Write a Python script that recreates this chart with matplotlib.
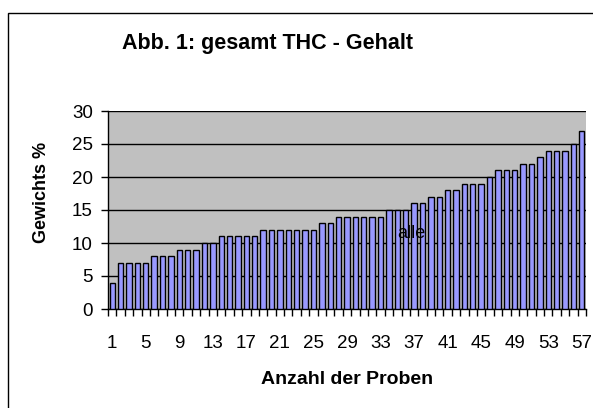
import matplotlib
matplotlib.use("Agg")
import matplotlib.pyplot as plt
import numpy as np

# THC content per sample, sorted ascending
samples = np.arange(1, 58)
thc = [4, 7, 7, 7, 7, 8, 8, 8, 9, 9, 9, 10, 10, 11, 11, 11, 11, 11,
       12, 12, 12, 12, 12, 12, 12, 13, 13, 14, 14, 14, 14, 14, 14,
       15, 15, 15, 16, 16, 17, 17, 18, 18, 19, 19, 19, 20, 21, 21, 21,
       22, 22, 23, 24, 24, 24, 25, 27]
xtick_labels = [str(i) for i in range(1, 58, 4)]
yticks = [0, 5, 10, 15, 20, 25, 30]

plt.rcParams["font.family"] = ["Liberation Sans", "DejaVu Sans"]

fig = plt.figure(figsize=(5.93, 4.08), dpi=100)
ax = fig.add_axes([108 / 593, 99 / 408, 478 / 593, 198 / 408])
ax.set_facecolor("#C0C0C0")

ax.bar(samples, thc, width=0.64, color="#9999FF", edgecolor="black", linewidth=1.0, zorder=3)

ax.set_xlim(0.5, 57.5)
ax.set_ylim(0, 30)
ax.set_yticks(yticks)
ax.yaxis.grid(True, color="black", linewidth=1.0, zorder=1)
ax.set_axisbelow(True)

ax.set_xticks(range(1, 58, 4))
ax.set_xticklabels(xtick_labels)
ax.set_xticks(np.arange(0.5, 58, 1), minor=True)
ax.tick_params(axis="x", which="major", length=0, pad=19, labelsize=13.5)
ax.tick_params(axis="x", which="minor", length=5, width=1, direction="out")
ax.tick_params(axis="y", length=5, width=1, direction="out", pad=6, labelsize=13.5)

for side in ["top", "right"]:
    ax.spines[side].set_visible(False)
ax.spines["left"].set_linewidth(1.0)
ax.spines["bottom"].set_linewidth(1.0)

# series name label inside the plot
ax.text(36.7, 11.5, "alle", fontsize=13, ha="center", va="center", zorder=4)

fig.text(268 / 593, 1 - 43 / 408, "Abb. 1: gesamt THC - Gehalt", fontsize=15.5,
         fontweight="bold", ha="center", va="center")
fig.text(42 / 593, 1 - 192 / 408, "Gewichts %", fontsize=13, fontweight="bold",
         rotation=90, ha="center", va="center")
fig.text(347 / 593, 1 - 379 / 408, "Anzahl der Proben", fontsize=14,
         fontweight="bold", ha="center", va="center")

# outer chart border (only left and top visible in the original crop)
border = plt.Rectangle((8 / 593, -0.05), 1.2, 1 - 13 / 408 + 0.05, transform=fig.transFigure,
                       fill=False, edgecolor="black", linewidth=1.0)
fig.add_artist(border)

fig.savefig("out.png", dpi=100)
